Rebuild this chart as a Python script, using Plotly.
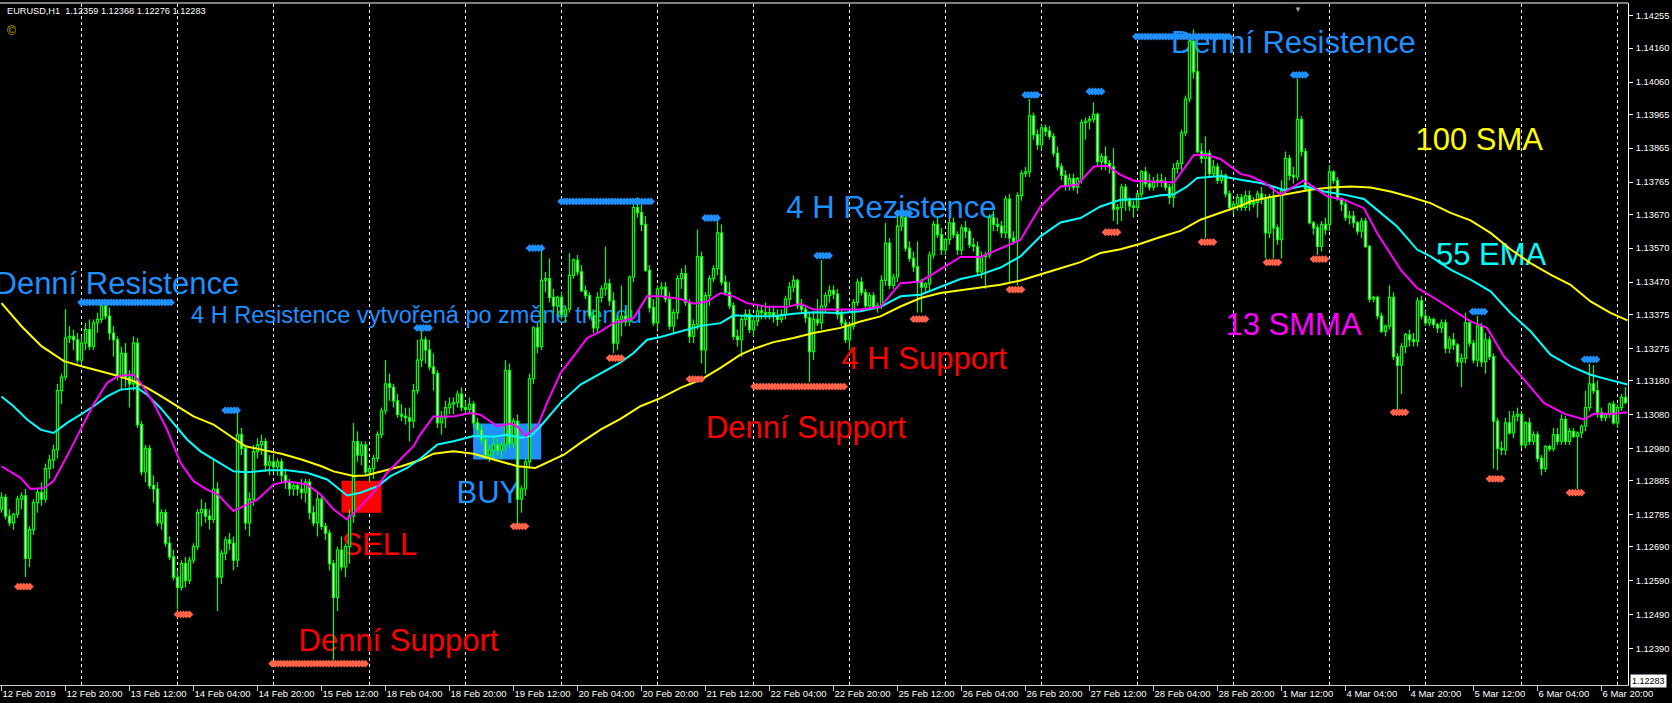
import plotly.graph_objects as go

# ---------------- DATA (prices in points above 1.10000) ----------------
BASE = 1.10000
PT = 0.00001

open_pts = [
2800,2835,2780,2760,2785,2830,2840,2655,2740,2820,
2850,2830,2920,2945,2975,3150,3190,3305,3310,3300,
3240,3290,3330,3280,3350,3360,3400,3370,3320,3300,
3195,3260,3190,3170,3290,3050,2910,2980,2870,2860,
2760,2790,2700,2660,2600,2570,2640,2590,2650,2690,
2790,2800,2780,2770,2860,2600,2670,2710,2700,2650,
3020,2980,2760,2830,2970,2990,3000,2930,2940,2925,
2940,2900,2880,2860,2870,2860,2850,2880,2790,2760,
2830,2750,2730,2640,2540,2680,2630,2690,2780,3000,
2960,2990,2910,2920,2950,3020,3090,3170,3160,3120,
3080,3075,3070,3060,3150,3240,3300,3270,3220,3200,
3055,3070,3100,3110,3115,3140,3100,3095,3110,3055,
3035,3005,2960,2975,2990,2975,2990,3210,2995,3060,
2830,2860,2940,3185,3335,3280,3475,3480,3425,3400,
3425,3375,3390,3490,3535,3500,3445,3430,3370,3335,
3425,3450,3465,3415,3290,3360,3370,3355,3485,3690,
3675,3640,3505,3395,3350,3450,3455,3420,3340,3380,
3480,3495,3410,3310,3345,3545,3270,3430,3480,3510,
3615,3470,3440,3400,3310,3300,3360,3375,3330,3355,
3385,3380,3375,3380,3370,3360,3375,3420,3455,3475,
3400,3390,3365,3265,3360,3350,3400,3430,3445,3435,
3375,3350,3300,3340,3410,3470,3440,3400,3430,3395,
3400,3475,3585,3460,3485,3635,3660,3570,3540,3515,
3470,3455,3465,3550,3640,3610,3565,3595,3645,3610,
3565,3630,3620,3580,3575,3500,3545,3550,3660,3640,
3635,3615,3715,3600,3590,3725,3790,3795,3960,3905,
3875,3925,3915,3900,3850,3810,3785,3755,3775,3750,
3775,3940,3945,3950,3965,3825,3840,3820,3810,3685,
3690,3750,3710,3695,3690,3730,3795,3760,3750,3765,
3770,3765,3750,3720,3805,3820,3910,4010,4180,4090,
3855,3835,3850,3790,3810,3770,3785,3730,3690,3700,
3720,3690,3725,3700,3705,3730,3715,3615,3720,3630,
3595,3740,3835,3785,3780,3950,3855,3745,3645,3630,
3575,3640,3640,3795,3770,3715,3700,3660,3665,3645,
3620,3650,3575,3420,3425,3370,3325,3340,3425,3250,
3225,3280,3315,3300,3295,3415,3370,3350,3360,3345,
3335,3350,3275,3300,3285,3235,3245,3350,3290,3240,
3340,3235,3300,3250,3060,2980,2975,3055,3025,3075,
3080,2990,3055,3000,3020,2950,2920,2985,2978,3020,
3000,3065,3000,3030,3015,3025,3045,3100,3170,3150,
3085,3070,3080,3110,3055,3100,3130]

high_pts = [
2850,2845,2800,2790,2840,2850,2860,2750,2830,2860,
2880,2935,2960,2990,3170,3200,3390,3340,3330,3320,
3310,3350,3360,3360,3380,3410,3420,3395,3340,3310,
3280,3290,3210,3310,3305,3060,2990,2990,2900,2880,
2800,2800,2720,2680,2620,2650,2660,2660,2700,2800,
2830,2820,2800,2950,2880,2680,2720,2730,2720,3085,
3040,2990,2850,2990,3010,3020,3010,2960,2960,2950,
2950,2920,2890,2880,2880,2890,2890,2890,2810,2850,
2840,2760,2740,2650,2690,2720,2700,2800,3055,3030,
3000,3000,2930,2960,3030,3100,3240,3200,3170,3140,
3110,3100,3100,3170,3300,3330,3310,3300,3260,3210,
3090,3120,3130,3130,3150,3160,3120,3130,3120,3070,
3050,3020,2990,3010,3010,3000,3240,3230,3070,3080,
2870,2950,3200,3340,3350,3565,3500,3540,3450,3430,
3440,3400,3555,3540,3550,3520,3460,3440,3390,3440,
3460,3575,3480,3440,3370,3460,3390,3490,3700,3720,
3700,3665,3520,3420,3460,3470,3470,3440,3390,3490,
3510,3520,3420,3360,3625,3560,3440,3490,3520,3650,
3640,3490,3470,3410,3330,3370,3390,3390,3370,3400,
3400,3410,3400,3400,3390,3390,3430,3470,3490,3480,
3420,3400,3380,3380,3420,3535,3440,3460,3460,3450,
3390,3360,3350,3420,3480,3485,3450,3440,3440,3410,
3490,3645,3600,3495,3675,3665,3670,3590,3560,3590,
3480,3470,3560,3650,3660,3630,3600,3660,3660,3620,
3640,3650,3630,3600,3590,3560,3560,3670,3680,3660,
3650,3725,3730,3620,3735,3800,3810,4010,3970,3920,
3935,3935,3930,3910,3870,3820,3800,3790,3790,3780,
3950,3955,3960,4000,3970,3850,3870,3830,3865,3700,
3760,3760,3720,3710,3735,3800,3810,3790,3780,3790,
3790,3780,3760,3820,3830,3920,4020,4200,4215,4160,
3880,3900,3860,3830,3820,3800,3790,3740,3710,3730,
3730,3740,3740,3720,3740,3750,3730,3730,3750,3640,
3770,3855,3845,3810,4070,3960,3865,3760,3650,3640,
3650,3660,3815,3800,3780,3720,3710,3680,3680,3650,
3660,3660,3580,3430,3430,3380,3345,3460,3440,3260,
3290,3320,3330,3320,3425,3430,3385,3370,3365,3350,
3360,3360,3310,3320,3290,3260,3380,3360,3300,3370,
3350,3320,3310,3260,3070,3000,3070,3090,3090,3100,
3090,3060,3070,3030,3030,2960,2990,2990,3040,3040,
3080,3075,3040,3040,3030,3050,3150,3230,3225,3180,
3100,3085,3115,3120,3110,3140,3160]

low_pts = [
2790,2770,2750,2740,2775,2800,2600,2630,2725,2790,
2810,2820,2890,2920,2950,3110,3180,3290,3270,3230,
3230,3270,3270,3270,3320,3350,3360,3300,3250,3180,
3150,3160,3100,3150,3040,2900,2880,2860,2820,2750,
2740,2690,2650,2590,2505,2560,2570,2580,2640,2680,
2750,2760,2740,2760,2500,2580,2650,2680,2620,2630,
2960,2740,2720,2810,2950,2960,2910,2900,2910,2900,
2880,2860,2840,2840,2840,2830,2820,2770,2750,2720,
2740,2710,2620,2355,2500,2620,2600,2640,2760,2940,
2930,2900,2880,2890,2940,3010,3080,3120,3100,3070,
3060,3050,3000,3040,3140,3220,3230,3210,3150,3040,
3020,3040,3080,3080,3100,3090,3080,3080,3040,3020,
2990,2950,2940,2950,2960,2950,2970,2980,2980,2755,
2790,2840,2920,3170,3260,3270,3440,3410,3380,3370,
3360,3350,3380,3480,3490,3440,3420,3360,3320,3320,
3410,3430,3400,3260,3270,3310,3340,3340,3470,3660,
3620,3500,3380,3340,3330,3430,3410,3330,3320,3360,
3450,3400,3290,3290,3330,3230,3200,3400,3470,3490,
3460,3430,3390,3300,3280,3250,3340,3320,3310,3340,
3360,3360,3360,3350,3340,3350,3360,3400,3440,3390,
3380,3350,3175,3240,3340,3330,3380,3410,3420,3360,
3340,3290,3270,3330,3400,3430,3390,3390,3390,3380,
3390,3460,3450,3450,3470,3620,3560,3530,3500,3380,
3380,3440,3440,3540,3600,3550,3550,3580,3600,3550,
3550,3600,3570,3560,3490,3480,3450,3540,3620,3620,
3600,3600,3470,3580,3460,3710,3780,3780,3890,3860,
3860,3900,3890,3840,3800,3770,3740,3740,3740,3730,
3760,3890,3920,3940,3810,3800,3800,3790,3650,3640,
3650,3680,3680,3660,3680,3720,3750,3740,3740,3750,
3750,3740,3700,3690,3790,3800,3900,4000,4070,3850,
3820,3600,3780,3780,3760,3760,3720,3680,3670,3680,
3680,3680,3680,3690,3660,3700,3540,3600,3540,3580,
3540,3730,3770,3760,3770,3840,3740,3640,3610,3550,
3560,3610,3620,3760,3710,3680,3650,3640,3630,3610,
3600,3570,3410,3410,3360,3320,3310,3330,3240,3095,
3140,3260,3280,3280,3280,3360,3340,3340,3335,3320,
3320,3260,3260,3270,3220,3160,3230,3280,3230,3220,
3220,3200,3240,2920,2915,2960,2960,3020,3010,3060,
2980,2980,2990,2990,2940,2900,2910,2970,2970,2990,
2990,2990,2990,3010,2860,3010,3030,3090,3140,3070,
3060,3060,3070,3050,3040,3090,3110]

close_pts = [
2835,2780,2760,2785,2830,2840,2655,2740,2820,2850,
2830,2920,2945,2975,3150,3190,3305,3310,3300,3240,
3290,3330,3280,3350,3360,3400,3370,3320,3300,3195,
3260,3190,3170,3290,3050,2910,2980,2870,2860,2760,
2790,2700,2660,2600,2570,2640,2590,2650,2690,2790,
2800,2780,2770,2860,2600,2670,2710,2700,2650,3020,
2980,2760,2830,2970,2990,3000,2930,2940,2925,2940,
2900,2880,2860,2870,2860,2850,2880,2790,2760,2830,
2750,2730,2640,2540,2680,2630,2690,2780,3000,2960,
2990,2910,2920,2950,3020,3090,3170,3160,3120,3080,
3075,3070,3060,3150,3240,3300,3270,3220,3200,3055,
3070,3100,3110,3115,3140,3100,3095,3110,3055,3035,
3005,2960,2975,2990,2975,2990,3210,2995,3060,2830,
2860,2940,3185,3335,3280,3475,3480,3425,3400,3425,
3375,3390,3490,3535,3500,3445,3430,3370,3335,3425,
3450,3465,3415,3290,3360,3370,3355,3485,3690,3675,
3640,3505,3395,3350,3450,3455,3420,3340,3380,3480,
3495,3410,3310,3345,3545,3270,3430,3480,3510,3615,
3470,3440,3400,3310,3300,3360,3375,3330,3355,3385,
3380,3375,3380,3370,3360,3375,3420,3455,3475,3400,
3390,3365,3265,3360,3350,3400,3430,3445,3435,3375,
3350,3300,3340,3410,3470,3440,3400,3430,3395,3400,
3475,3585,3460,3485,3635,3660,3570,3540,3515,3470,
3455,3465,3550,3640,3610,3565,3595,3645,3610,3565,
3630,3620,3580,3575,3500,3545,3550,3660,3640,3635,
3615,3715,3600,3590,3725,3790,3795,3960,3905,3875,
3925,3915,3900,3850,3810,3785,3755,3775,3750,3775,
3940,3945,3950,3965,3825,3840,3820,3810,3685,3690,
3750,3710,3695,3690,3730,3795,3760,3750,3765,3770,
3765,3750,3720,3805,3820,3910,4010,4180,4090,3855,
3835,3850,3790,3810,3770,3785,3730,3690,3700,3720,
3690,3725,3700,3705,3730,3715,3615,3720,3630,3595,
3740,3835,3785,3780,3950,3855,3745,3645,3630,3575,
3640,3625,3795,3770,3715,3700,3660,3665,3645,3620,
3650,3575,3420,3425,3370,3325,3340,3425,3250,3225,
3280,3315,3300,3295,3415,3370,3350,3360,3345,3335,
3350,3275,3300,3285,3235,3245,3350,3290,3240,3340,
3235,3300,3250,3060,2980,2975,3055,3025,3075,3080,
2990,3055,3000,3020,2950,2920,2985,2978,3020,3000,
3065,3000,3030,3015,3025,3045,3100,3170,3150,3085,
3070,3080,3110,3055,3100,3130,3115]

# Moving averages: (bar index, points)
sma100_bar = [0,5,10,15.6,20,25,29,33,36.4,40,44,48,53,58,61,65,70,75,80,83,88,91,95,100,105,108,113,118,123,129,
              133.5,136.4,140.6,144.75,149.75,154.75,159.75,164.75,169.75,174.75,179.75,184.75,188,193,198,203,
              209.75,214.75,219.75,224.75,229.75,234.75,239.75,244.75,249.75,254.75,259.75,264.75,269.75,274.75,
              279.75,284.75,289.75,294.75,299.75,304.75,309.75,312.25,317.25,322.25,327.25,332.25,337.25,342.25,
              347.25,352.25,357.25,362.25,367.25,372.25,377.25,382.25,387.25,392.25,397.25,402.25,406.5]
sma100_pts = [3408,3340,3281,3237,3222,3207,3194,3178,3158,3133,3104,3074,3050,3011,2986,2976,2964,2947,2927,2912,
              2898,2900,2912,2927,2947,2964,2971,2964,2947,2927,2922,2937,2961,2996,3035,3067,3104,3128,3158,3182,
              3217,3256,3273,3293,3305,3320,3335,3354,3369,3398,3423,3438,3446,3452,3462,3475,3492,3511,3529,3556,
              3567,3583,3603,3621,3654,3675,3695,3708,3721,3731,3742,3749,3752,3749,3737,3721,3703,3674,3652,3615,
              3567,3526,3492,3462,3413,3379,3357]

ema55_bar = [0,3,6.4,9.75,13,16.4,19.75,23,26.4,29.75,34,36.4,39.75,43,46.4,49.75,53,58,61.4,66.4,71.4,76.4,81.4,
             86.4,89.75,94,97.25,101.4,104.75,109,113,118,123,126.4,129.75,132.25,134.75,139.75,144.75,149.75,
             154.75,158,161.4,164.75,169.75,174.75,179.75,183,188,193,198,203,209.75,214.75,219.75,224.75,229.75,
             234.75,239.75,244.75,249.75,254.75,259.75,264.75,269.75,274.75,279.75,284.75,289.75,293,296.4,298.9,
             301.4,304.75,309.75,314.75,317.25,320.6,325.6,330.6,335.6,340.6,343.9,348.9,353.9,357.25,362.25,
             367.25,372.25,377.25,382.25,387.25,392.25,397.25,402.25,406.5]
ema55_pts = [3133,3104,3065,3035,3025,3055,3079,3104,3133,3153,3158,3138,3099,3055,3006,2971,2947,2912,2909,2915,
             2915,2908,2888,2841,2849,2868,2898,2922,2950,2991,3001,3016,3014,3020,3011,3016,3045,3114,3168,3200,
             3233,3261,3300,3308,3325,3341,3349,3372,3369,3369,3377,3381,3379,3384,3397,3428,3433,3457,3479,3492,
             3513,3546,3605,3646,3659,3693,3713,3715,3726,3728,3752,3777,3780,3783,3772,3762,3754,3742,3754,3737,
             3728,3715,3683,3634,3566,3546,3507,3477,3443,3379,3325,3256,3222,3197,3181,3168]

smma13_bar = [0,4.75,7.25,10.6,13,16.4,19.75,23,26.4,29,31.4,33,34.75,38,41.4,44.75,48,51.4,54,58,61.4,64,68,71.4,
              76.4,79.75,83,86.4,89.75,93,96.4,99.75,103,104.75,108,113,117,119.75,124,127.25,128.9,131,134,136.4,
              139.75,143,146.4,149.75,153,158,161.4,164.75,169.75,173,176.4,179.75,183,186.4,191.4,196.4,199.75,
              203,209.75,214.75,219.75,224.75,229.75,234.75,239.75,244.75,249.75,254.75,259.75,264.75,268.9,273.1,
              276.4,279.75,283.1,288.1,293.1,298.1,301.4,304.75,309.75,312.25,315.6,319.75,325.6,331.4,335.6,340.6,
              343.9,349.75,353.9,358.9,363.9,367.25,371.4,375.6,380.6,385.6,390.6,395.6,398.1,403.1,406.5]
smma13_pts = [2927,2893,2860,2863,2883,2957,3035,3109,3173,3192,3197,3197,3173,3114,3035,2937,2883,2858,2844,2795,
              2814,2829,2873,2883,2873,2844,2800,2770,2809,2849,2908,2947,2986,3022,3074,3074,3084,3079,3045,3053,
              3045,3016,3045,3114,3202,3251,3305,3325,3349,3364,3428,3428,3420,3406,3413,3438,3428,3408,3397,3397,
              3406,3389,3388,3389,3398,3467,3472,3507,3544,3544,3570,3595,3693,3752,3757,3811,3813,3786,3769,3767,
              3764,3845,3845,3833,3789,3782,3764,3728,3770,3723,3713,3688,3615,3507,3453,3418,3379,3354,3335,3251,
              3183,3114,3082,3065,3082,3082,3086]

# Fractal markers: (bar, points)
fractal_up = [(57.4,3092),(105.4,3335),(133.5,3570),(177.4,3659),(205.4,3548),(225.5,3673),
              (257.4,4022),(273.5,4032),(324.5,4081),(369.25,3383),(397.25,3242)]
fractal_down = [(5.6,2572),(45.5,2490),(129.5,2750),(153.5,3246),(173.5,3184),(229.5,3361),(253.5,3448),
                (277.5,3617),(301.5,3588),(317.75,3528),(329.5,3538),(349.5,3086),(373.5,2890),(393.5,2849)]
# Level rows: (start bar, end bar, points)
resist_rows = [(19,44,3410),(139,164,3708),(282.7,308.1,4194)]
support_rows = [(66.75,92.25,2345),(187.25,212.25,3162)]

x_tick_bars = list(range(0, 401, 16))
x_tick_text = ["12 Feb 2019","12 Feb 20:00","13 Feb 12:00","14 Feb 04:00","14 Feb 20:00","15 Feb 12:00",
               "18 Feb 04:00","18 Feb 20:00","19 Feb 12:00","20 Feb 04:00","20 Feb 20:00","21 Feb 12:00",
               "22 Feb 04:00","22 Feb 20:00","25 Feb 12:00","26 Feb 04:00","26 Feb 20:00","27 Feb 12:00",
               "28 Feb 04:00","28 Feb 20:00","1 Mar 12:00","4 Mar 04:00","4 Mar 20:00","5 Mar 12:00",
               "6 Mar 04:00","6 Mar 20:00"]
y_tick_vals = [1.14255,1.14160,1.14060,1.13965,1.13865,1.13765,1.13670,1.13570,1.13470,1.13375,
               1.13275,1.13180,1.13080,1.12980,1.12885,1.12785,1.12690,1.12590,1.12490,1.12390]
day_start_bars = list(range(20, 405, 24))

header_text = "EURUSD,H1\u00a0 1.12359 1.12368 1.12276 1.12283"
last_price = 1.12283

# ---------------- BUILD ----------------
def px(v):
    return BASE + v * PT

FONT = "Liberation Sans, Arial, sans-serif"
LIME = "#00FF00"
BLUE = "#1E90FF"
TOMATO = "#FF6347"

n = min(len(open_pts), len(high_pts), len(low_pts), len(close_pts))
O = [px(v) for v in open_pts[:n]]
H = [px(v) for v in high_pts[:n]]
L = [px(v) for v in low_pts[:n]]
C = [px(v) for v in close_pts[:n]]

fig = go.Figure()

# text labels (drawn first, behind the chart)
labels = [
    ("Denní Resistence", -1.75, 3458, BLUE, 31),
    ("4 H Resistence vytvořená po změně trendu", 47.4, 3367, BLUE, 23.5),
    ("Denní Resistence", 292.4, 4167, BLUE, 31),
    ("4 H Rezistence", 196.2, 3682, BLUE, 31),
    ("SELL", 85.0, 2689, "#FF0000", 31),
    ("BUY", 113.75, 2843, BLUE, 31),
    ("Denní Support", 74.25, 2406, "#FF0000", 31),
    ("Denní Support", 176.1, 3034, "#FF0000", 31),
    ("4 H Support", 210.0, 3236, "#FF0000", 31),
    ("100 SMA", 353.5, 3882, "#FFFF00", 31),
    ("55 EMA", 358.6, 3544, "#00FFFF", 31),
    ("13 SMMA", 306.0, 3337, "#FF00FF", 31),
]
for txt, bx, by, col, sz in labels:
    fig.add_trace(go.Scatter(x=[bx], y=[px(by)], mode="text", text=[txt], textposition="middle right",
                             textfont=dict(family=FONT, size=sz, color=col), hoverinfo="skip",
                             cliponaxis=True))

# candles
HW = 0.28
wick_x, wick_y = [], []
bull_x, bull_y, bear_x, bear_y = [], [], [], []
for i in range(n):
    wick_x += [i, i, None]
    wick_y += [L[i], H[i], None]
    xs = [i - HW, i + HW, i + HW, i - HW, i - HW, None]
    ys = [O[i], O[i], C[i], C[i], O[i], None]
    if C[i] > O[i]:
        bull_x += xs; bull_y += ys
    else:
        bear_x += xs; bear_y += ys

fig.add_trace(go.Scatter(x=wick_x, y=wick_y, mode="lines", line=dict(color=LIME, width=1.2), hoverinfo="skip"))
fig.add_trace(go.Scatter(x=bull_x, y=bull_y, mode="lines", fill="toself", fillcolor="#000000",
                         line=dict(color=LIME, width=1.2), hoverinfo="skip"))
fig.add_trace(go.Scatter(x=bear_x, y=bear_y, mode="lines", fill="toself", fillcolor="#FFFFFF",
                         line=dict(color=LIME, width=1.2), hoverinfo="skip"))

# moving averages
for bars, pts, col in [(sma100_bar, sma100_pts, "#FFFF00"), (ema55_bar, ema55_pts, "#00FFFF"),
                       (smma13_bar, smma13_pts, "#FF00FF")]:
    m = min(len(bars), len(pts))
    fig.add_trace(go.Scatter(x=bars[:m], y=[px(v) for v in pts[:m]], mode="lines",
                             line=dict(color=col, width=2), hoverinfo="skip"))

# fractal diamond groups
def group_xs(center):
    return [center + k * 0.75 for k in (-2, -1, 0, 1, 2)]

def row_xs(a, b):
    xs = []
    x = a + 0.9
    while x <= b - 0.9 + 1e-9:
        xs.append(x)
        x += 0.75
    return xs

for groups, rows, col in [(fractal_up, resist_rows, BLUE), (fractal_down, support_rows, TOMATO)]:
    mx, my = [], []
    for c, p in groups:
        g = group_xs(c)
        mx += g; my += [px(p)] * len(g)
    for a, b, p in rows:
        r = row_xs(a, b)
        mx += r; my += [px(p)] * len(r)
    fig.add_trace(go.Scatter(x=mx, y=my, mode="markers",
                             marker=dict(symbol="diamond", size=6, color=col, line=dict(width=0)),
                             hoverinfo="skip"))

# shapes: grid + rectangles
shapes = []
for d in day_start_bars:
    shapes.append(dict(type="line", xref="x", yref="paper", x0=d, x1=d, y0=0, y1=1, layer="below",
                       line=dict(color="#FFFFFF", width=1, dash="3px,3px")))
shapes.append(dict(type="rect", xref="x", yref="y", x0=85, x1=95, y0=px(2790), y1=px(2884),
                   fillcolor="#FF0000", line=dict(width=0), layer="below"))
shapes.append(dict(type="rect", xref="x", yref="y", x0=117.9, x1=134.9, y0=px(2947), y1=px(3053),
                   fillcolor=BLUE, line=dict(width=0), layer="below"))
shapes.append(dict(type="line", xref="paper", yref="paper", x0=0, x1=1, y0=1, y1=1,
                   line=dict(color="#FFFFFF", width=1)))

annotations = [
    dict(text=header_text, xref="paper", yref="paper", x=5/1628, y=1-(11-3)/682, xanchor="left",
         yanchor="middle", showarrow=False, font=dict(family=FONT, size=9.2, color="#FFFFFF")),
    dict(text="©", xref="paper", yref="paper", x=5/1628, y=1-(31-3)/682, xanchor="left",
         yanchor="middle", showarrow=False, font=dict(family=FONT, size=12, color="#D8B800")),
    dict(text="1.12283", xref="paper", yref="y", x=1, y=last_price, xanchor="left", yanchor="middle",
         xshift=2, yshift=4, showarrow=False, bgcolor="#FFFFFF", borderpad=1,
         font=dict(family=FONT, size=9, color="#000000")),
    dict(text="▼", xref="paper", yref="paper", x=1298/1628, y=1, xanchor="center", yanchor="top",
         showarrow=False, font=dict(family=FONT, size=8, color="#A0A0A0")),
]

fig.update_layout(
    width=1672, height=703,
    margin=dict(l=0, r=44, t=3, b=18, autoexpand=False),
    paper_bgcolor="#000000", plot_bgcolor="#000000",
    showlegend=False,
    shapes=shapes, annotations=annotations,
    xaxis=dict(range=[-0.375, 406.625], tickmode="array", tickvals=x_tick_bars, ticktext=x_tick_text,
               ticks="outside", ticklen=5, tickcolor="#C8C8C8", showline=True, linecolor="#C8C8C8",
               linewidth=1, showgrid=False, zeroline=False, ticklabelposition="outside right",
               tickangle=0, automargin=False,
               tickfont=dict(family=FONT, size=9.5, color="#FFFFFF"), fixedrange=True),
    yaxis=dict(range=[1.12282, 1.14293], side="right", tickmode="array", tickvals=y_tick_vals,
               ticktext=["%.5f" % v for v in y_tick_vals], ticks="outside", ticklen=4, tickcolor="#FFFFFF",
               showline=True, linecolor="#FFFFFF", linewidth=1, showgrid=False, zeroline=False,
               automargin=False, ticklabelstandoff=1,
               tickfont=dict(family=FONT, size=9.3, color="#FFFFFF"), fixedrange=True),
)

fig.write_html("out.html", config={"displayModeBar": False, "staticPlot": True},
               post_script="document.body.style.margin='0';document.body.style.padding='0';"
                           "document.body.style.background='#000';")
